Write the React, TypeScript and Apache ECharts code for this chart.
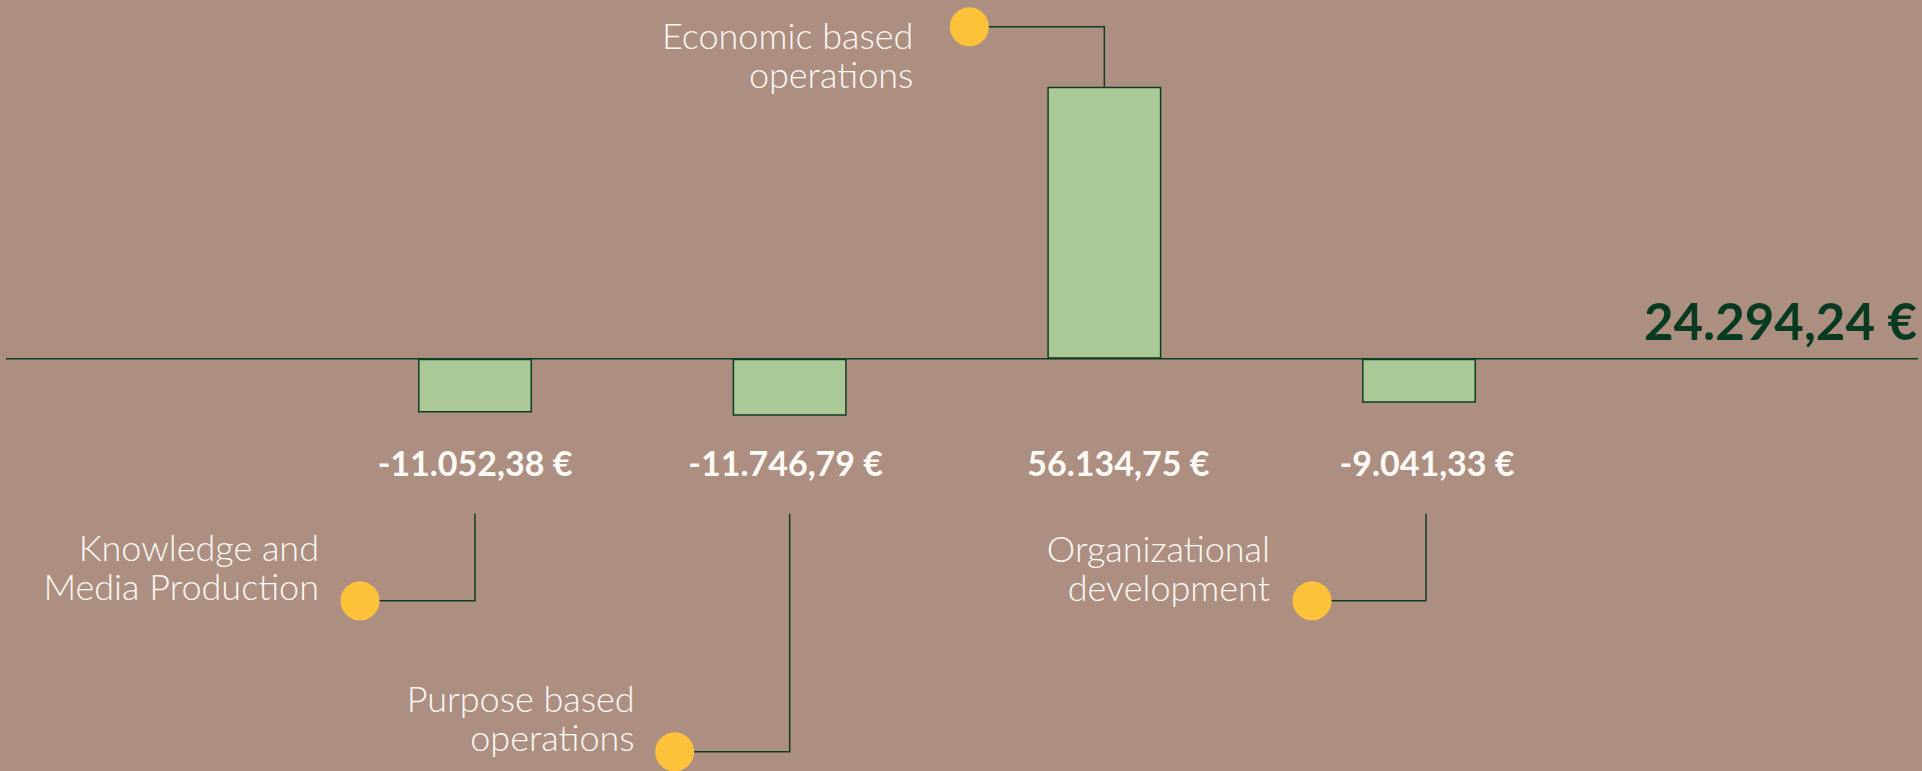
import React, { useEffect, useRef } from "react";
import * as echarts from "echarts";

// ---- data ----
const categories = ["", "Knowledge and\nMedia Production", "Purpose based\noperations", "Economic based\noperations", "Organizational\ndevelopment", ""];
const values: (number | null)[] = [null, -11052.38, -11746.79, 56134.75, -9041.33, null];
const valueLabels = ["", "-11.052,38 €", "-11.746,79 €", "56.134,75 €", "-9.041,33 €", ""];
const totalLabel = "24.294,24 €";
const yMin = -85000;
const yMax = 74000;

// ---- annotation layout (pixel offsets relative to bar centre / zero line) ----
type Anno = { dotDx: number; dotDy: number; lineDx: number; textGap: number; textDy: number; valueDx: number };
const annoLayout: (Anno | null)[] = [
  null,
  { dotDx: -115, dotDy: 242, lineDx: 0, textGap: 41, textDy: -34, valueDx: 0 },
  { dotDx: -115, dotDy: 393, lineDx: 0, textGap: 40, textDy: -34, valueDx: -4 },
  { dotDx: -135, dotDy: -332, lineDx: 0, textGap: 56, textDy: 28, valueDx: 14 },
  { dotDx: -107, dotDy: 242, lineDx: 7, textGap: 42, textDy: -33, valueDx: 8 },
  null,
];

const BG = "#ad8f81";
const BAR = "#abc996";
const DARK = "#0f3d24";
const YELLOW = "#fdc13a";
const WHITE = "#fcfaf6";

export default function App() {
  const ref = useRef<HTMLDivElement>(null);
  useEffect(() => {
    if (!ref.current) return;
    const chart = echarts.init(ref.current, null, { renderer: "svg" });
    chart.setOption({
      animation: false,
      backgroundColor: BG,
      grid: { left: 3, width: 1888, top: 0, height: 771, containLabel: false },
      xAxis: {
        type: "category",
        data: categories,
        axisLine: { show: false },
        axisTick: { show: false },
        axisLabel: { show: false },
        splitLine: { show: false },
      },
      yAxis: {
        type: "value",
        min: yMin,
        max: yMax,
        show: false,
        splitLine: { show: false },
      },
      series: [
        {
          type: "bar",
          data: values.map((v) => (v === null ? "-" : v)),
          barWidth: 114,
          itemStyle: { color: BAR, borderColor: DARK, borderWidth: 1.5 },
          z: 5,
        },
      ],
    });

    const y0 = chart.convertToPixel({ gridIndex: 0 }, [0, 0])[1];
    const els: any[] = [];
    els.push({
      type: "line",
      z: 1,
      shape: { x1: 6, y1: y0, x2: 1918, y2: y0 },
      style: { stroke: DARK, lineWidth: 1.5 },
    });
    els.push({
      type: "text",
      z: 20,
      x: 1917,
      y: y0 - 38,
      style: {
        text: totalLabel,
        align: "right",
        verticalAlign: "middle",
        fontFamily: "Lato",
        fontWeight: "bold",
        fontSize: 51,
        fill: "#073a20",
      },
    });
    values.forEach((v, i) => {
      const a = annoLayout[i];
      if (v === null || !a) return;
      const [cx, vy] = chart.convertToPixel({ gridIndex: 0 }, [i, v]);
      const lx = cx + a.lineDx;
      const dotX = cx + a.dotDx;
      const dotY = y0 + a.dotDy;
      // value label
      els.push({
        type: "text",
        z: 20,
        x: cx + a.valueDx,
        y: y0 + 104,
        style: {
          text: valueLabels[i],
          align: "center",
          verticalAlign: "middle",
          fontFamily: "Lato",
          fontWeight: "bold",
          fontSize: 34,
          fill: WHITE,
        },
      });
      // connector
      const startY = v >= 0 ? vy : y0 + 155;
      els.push({
        type: "polyline",
        z: 3,
        shape: { points: [[lx, startY], [lx, dotY], [dotX, dotY]] },
        style: { stroke: DARK, lineWidth: 1.5, fill: "none" },
      });
      els.push({
        type: "circle",
        z: 10,
        shape: { cx: dotX, cy: dotY, r: 19.5 },
        style: { fill: YELLOW },
      });
      els.push({
        type: "text",
        z: 20,
        x: dotX - a.textGap,
        y: dotY + a.textDy,
        style: {
          text: categories[i],
          align: "right",
          verticalAlign: "middle",
          fontFamily: "Lato",
          fontWeight: 300,
          fontSize: 36,
          lineHeight: 39,
          fill: WHITE,
        },
      });
    });
    chart.setOption({ graphic: { elements: els } });
    return () => chart.dispose();
  }, []);
  return (
    <div
      ref={ref}
      style={{ position: "absolute", left: 0, top: 0, width: 1922, height: 771 }}
    />
  );
}
